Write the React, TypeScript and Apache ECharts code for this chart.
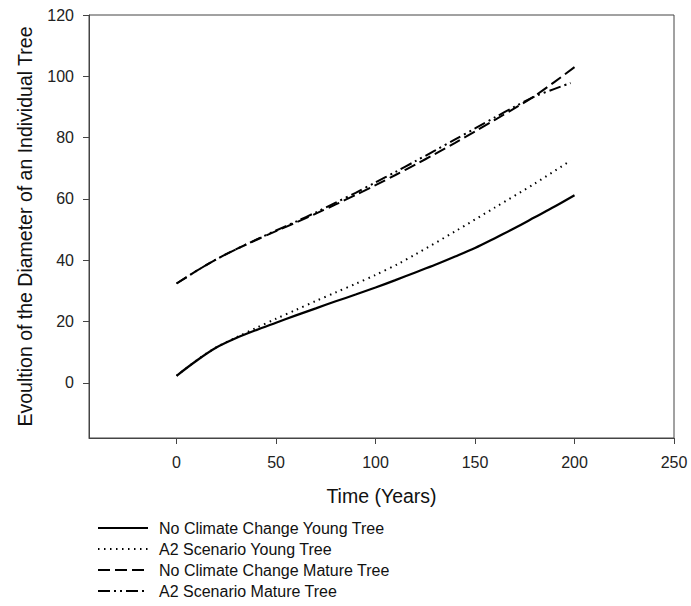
import React, { useEffect, useRef } from "react";
import * as echarts from "echarts";

const years = [0, 10, 20, 30, 40, 50, 60, 70, 80, 90, 100, 110, 120, 130, 140, 150, 160, 170, 180, 190, 200];
const youngNoCC = [2.3, 7.2, 11.5, 14.6, 17.2, 19.6, 22.0, 24.3, 26.6, 28.8, 31.1, 33.5, 36.0, 38.5, 41.2, 44.0, 47.2, 50.5, 54.0, 57.5, 61.2];
const yearsA2Young = [0, 10, 20, 30, 40, 50, 60, 70, 80, 90, 100, 112, 120, 140, 160, 180, 198];
const youngA2 = [2.3, 7.3, 11.6, 14.8, 17.9, 20.9, 23.8, 26.7, 29.5, 32.3, 35.2, 39.0, 41.9, 49.4, 57.2, 65.0, 72.5];
const matureNoCC = [32.4, 36.5, 40.3, 43.6, 46.6, 49.5, 52.3, 55.2, 58.2, 61.3, 64.5, 67.8, 71.2, 74.7, 78.3, 82.0, 85.8, 89.6, 93.6, 98.2, 103.0];
const yearsA2Mature = [0, 10, 20, 30, 40, 50, 60, 70, 80, 90, 100, 110, 120, 130, 140, 150, 160, 170, 180, 190, 198];
const matureA2 = [32.4, 36.5, 40.3, 43.6, 46.7, 49.7, 52.6, 55.6, 58.8, 62.0, 65.4, 68.8, 72.3, 75.8, 79.4, 83.0, 86.6, 90.1, 93.4, 95.9, 97.8];

const xTicks = [0, 50, 100, 150, 200, 250];
const yTicks = [0, 20, 40, 60, 80, 100, 120];

const seriesNames = [
  "No Climate Change Young Tree",
  "A2 Scenario Young Tree",
  "No Climate Change Mature Tree",
  "A2 Scenario Mature Tree",
];

const pair = (xs: number[], ys: number[]) => xs.map((x, i) => [x, ys[i]]);

export default function App() {
  const ref = useRef<HTMLDivElement>(null);
  useEffect(() => {
    if (!ref.current) return;
    const chart = echarts.init(ref.current, undefined, { renderer: "svg" });
    const font = "'Liberation Sans', Arial, sans-serif";
    const axisColor = "#444";
    const mk = (name: string, data: number[][], type: any, width = 2) => ({
      name,
      type: "line",
      data,
      showSymbol: false,
      symbol: "none",
      smooth: 0.3,
      lineStyle: { color: "#000", width, type },
      itemStyle: { color: "#000" },
    });
    chart.setOption({
      animation: false,
      backgroundColor: "#fff",
      textStyle: { fontFamily: font },
      grid: {
        left: 89,
        top: 15,
        right: 17,
        bottom: 168,
        show: true,
        borderColor: axisColor,
        borderWidth: 1,
        containLabel: false,
      },
      xAxis: {
        type: "value",
        min: -44,
        max: 250,
        name: "Time (Years)",
        nameLocation: "middle",
        nameGap: 48,
        nameTextStyle: { fontSize: 19.5, color: "#111", fontFamily: font },
        splitLine: { show: false },
        axisLine: { show: true, onZero: false, lineStyle: { color: axisColor, width: 1 } },
        axisTick: { show: true, customValues: xTicks, length: 6, inside: false, lineStyle: { color: axisColor } },
        axisLabel: { customValues: xTicks, fontSize: 16, color: "#222", margin: 16, fontFamily: font },
      },
      yAxis: {
        type: "value",
        min: -18,
        max: 120,
        name: "Evoultion of the Diameter of an Individual Tree",
        nameLocation: "middle",
        nameGap: 54,
        nameTextStyle: { fontSize: 19.5, color: "#111", fontFamily: font },
        splitLine: { show: false },
        axisLine: { show: true, onZero: false, lineStyle: { color: axisColor, width: 1 } },
        axisTick: { show: true, customValues: yTicks, length: 6, inside: false, lineStyle: { color: axisColor } },
        axisLabel: { customValues: yTicks, fontSize: 16, color: "#222", margin: 15, fontFamily: font },
      },
      legend: {
        orient: "vertical",
        left: 97,
        top: 520,
        height: 86,
        padding: 0,
        itemWidth: 50,
        itemHeight: 16,
        itemGap: 5,
        itemStyle: { color: "rgba(0,0,0,0)", borderWidth: 0, opacity: 0 },
        textStyle: { fontSize: 16, lineHeight: 16, color: "#111", fontFamily: font, padding: [0, 0, 0, 6] },
        data: seriesNames,
      },
      series: [
        mk(seriesNames[0], pair(years, youngNoCC), "solid", 2.2),
        mk(seriesNames[1], pair(yearsA2Young, youngA2), [1.5, 4.5], 2),
        mk(seriesNames[2], pair(years, matureNoCC), [12, 5], 2),
        mk(seriesNames[3], pair(yearsA2Mature, matureA2), [12, 4, 2, 4, 2, 4], 2),
      ],
    });
    return () => chart.dispose();
  }, []);
  return (
    <div
      ref={ref}
      style={{ position: "fixed", left: 0, top: 0, width: 691, height: 606 }}
    />
  );
}
